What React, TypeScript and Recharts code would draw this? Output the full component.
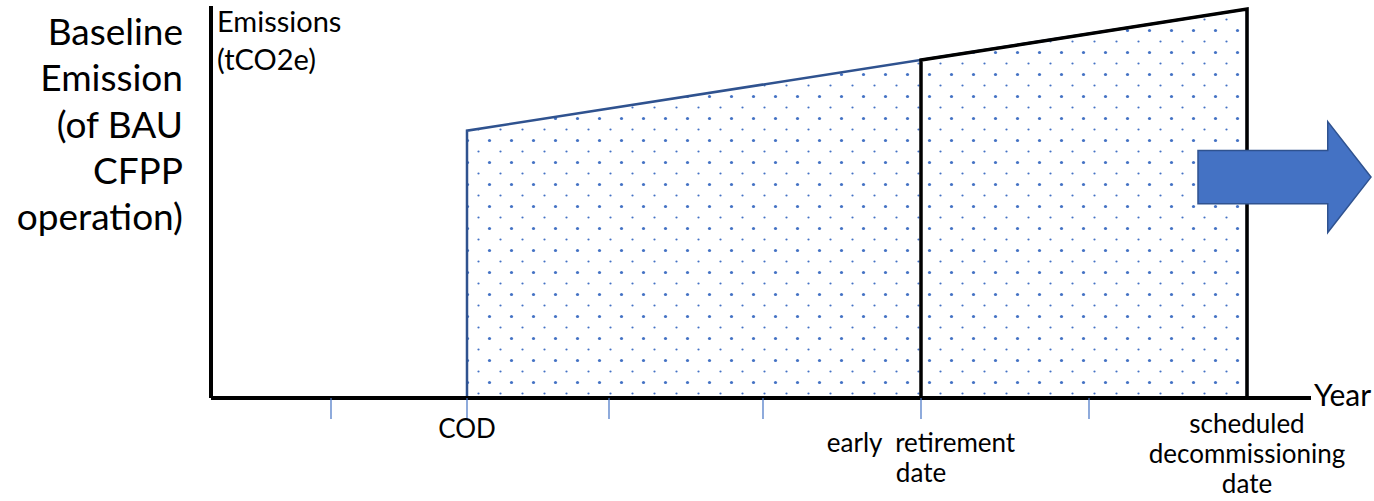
import { ComposedChart, Area, Line, XAxis, YAxis, ReferenceArea, Label } from "recharts";

// x in "years" from the origin, y in % of the top of the axis
const codYear = 12.8;
const earlyRetirementYear = 35.5;
const decommissionYear = 51.8;

const tickYears = [6, 12.8, 19.9, 27.6, 35.5, 43.9];
const milestoneYears = [codYear, earlyRetirementYear, decommissionYear];
const milestoneLabels = [["COD"], ["early  retirement", "date"], ["scheduled", "decommissioning", "date"]];

const emissionAtCod = 68.2;
const emissionAtEarly = 86.2;
const emissionAtDecommission = 99.2;

const baselineArea = [
  { x: codYear, y: emissionAtCod },
  { x: earlyRetirementYear, y: emissionAtEarly },
  { x: decommissionYear, y: emissionAtDecommission },
];

const baselineOutline = [
  { x: codYear, y: 0 },
  { x: codYear, y: emissionAtCod },
  { x: decommissionYear, y: emissionAtDecommission },
  { x: decommissionYear, y: 0 },
  { x: codYear, y: 0 },
];

const avoidedOutline = [
  { x: earlyRetirementYear, y: 0 },
  { x: earlyRetirementYear, y: emissionAtEarly },
  { x: decommissionYear, y: emissionAtDecommission },
  { x: decommissionYear, y: 0 },
];

const arrowBox = { x1: 49.35, x2: 58, y1: 42.2, y2: 70.5 };

const leftTitle = ["Baseline", "Emission", "(of BAU", "CFPP", "operation)"];
const axisTitle = ["Emissions", "(tCO2e)"];
const xTitle = "Year";

const FONT = "Lato, 'Noto Sans', sans-serif";
const BLUE = "#4472C4";
const DARK_BLUE = "#2F528F";

// first baseline below the axis for each milestone label
const labelTop = [40, 54, 35];

function MilestoneTick(props: any) {
  const { x, y, payload } = props;
  const v = payload.value;
  const i = milestoneYears.indexOf(v);
  return (
    <g>
      {tickYears.includes(v) && <line x1={x} x2={x} y1={y} y2={y + 21} stroke={BLUE} strokeWidth={1.2} />}
      {i >= 0 &&
        milestoneLabels[i].map((t, k) => (
          <text key={k} x={x} y={y + labelTop[i] + k * 30} textAnchor="middle" fontFamily={FONT} fontSize={26} fill="#000" style={{ whiteSpace: "pre" }}>
            {t}
          </text>
        ))}
    </g>
  );
}

function YTitles(props: any) {
  const { x, y } = props.viewBox;
  return (
    <g fontFamily={FONT} fill="#000">
      {leftTitle.map((t, k) => (
        <text key={k} x={x - 27} y={y + 39 + k * 46.3} textAnchor="end" fontSize={37}>
          {t}
        </text>
      ))}
      {axisTitle.map((t, k) => (
        <text key={"a" + k} x={x + 7} y={y + 26 + k * 38} fontSize={29}>
          {t}
        </text>
      ))}
    </g>
  );
}

function XTitle(props: any) {
  const { x, y, width } = props.viewBox;
  return (
    <text x={x + width + 3} y={y + 8} fontFamily={FONT} fontSize={30} fill="#000">
      {xTitle}
    </text>
  );
}

function Arrow(props: any) {
  const { x, y, width: w, height: h } = props;
  const d = `M${x},${y + 0.26 * h} L${x + 0.75 * w},${y + 0.26 * h} L${x + 0.75 * w},${y} L${x + w},${y + h / 2} L${x + 0.75 * w},${y + h} L${x + 0.75 * w},${y + 0.74 * h} L${x},${y + 0.74 * h} Z`;
  return <path d={d} fill={BLUE} stroke={DARK_BLUE} strokeWidth={1.5} />;
}

export default function App() {
  return (
    <div style={{ position: "absolute", left: 0, top: 0, background: "#fff" }}>
      <ComposedChart width={1374} height={501} margin={{ top: 6, right: 63, bottom: 3, left: 210 }}>
        <defs>
          <pattern id="dots" patternUnits="userSpaceOnUse" width={22} height={22}>
            <circle cx={5.5} cy={8.5} r={1.6} fill={BLUE} />
            <circle cx={16.5} cy={19.5} r={1.1} fill={BLUE} />
          </pattern>
        </defs>
        <XAxis
          dataKey="x"
          type="number"
          domain={[0, 55]}
          allowDataOverflow
          ticks={[...tickYears, decommissionYear]}
          tick={<MilestoneTick />}
          tickLine={false}
          tickSize={0}
          tickMargin={0}
          height={100}
          axisLine={{ stroke: "#000", strokeWidth: 4 }}
          interval={0}
        >
          <Label content={<XTitle />} />
        </XAxis>
        <YAxis
          type="number"
          domain={[0, 100]}
          allowDataOverflow
          width={1}
          tick={false}
          tickLine={false}
          axisLine={{ stroke: "#000", strokeWidth: 4 }}
        >
          <Label content={<YTitles />} />
        </YAxis>
        <Area data={baselineArea} dataKey="y" type="linear" stroke="none" fill="url(#dots)" fillOpacity={1} isAnimationActive={false} />
        <Line data={baselineOutline} dataKey="y" type="linear" stroke={DARK_BLUE} strokeWidth={2.5} dot={false} activeDot={false} isAnimationActive={false} />
        <Line data={avoidedOutline} dataKey="y" type="linear" stroke="#000" strokeWidth={3.5} dot={false} activeDot={false} isAnimationActive={false} />
        <ReferenceArea {...arrowBox} ifOverflow="visible" shape={<Arrow />} zIndex={1500} />
      </ComposedChart>
    </div>
  );
}
